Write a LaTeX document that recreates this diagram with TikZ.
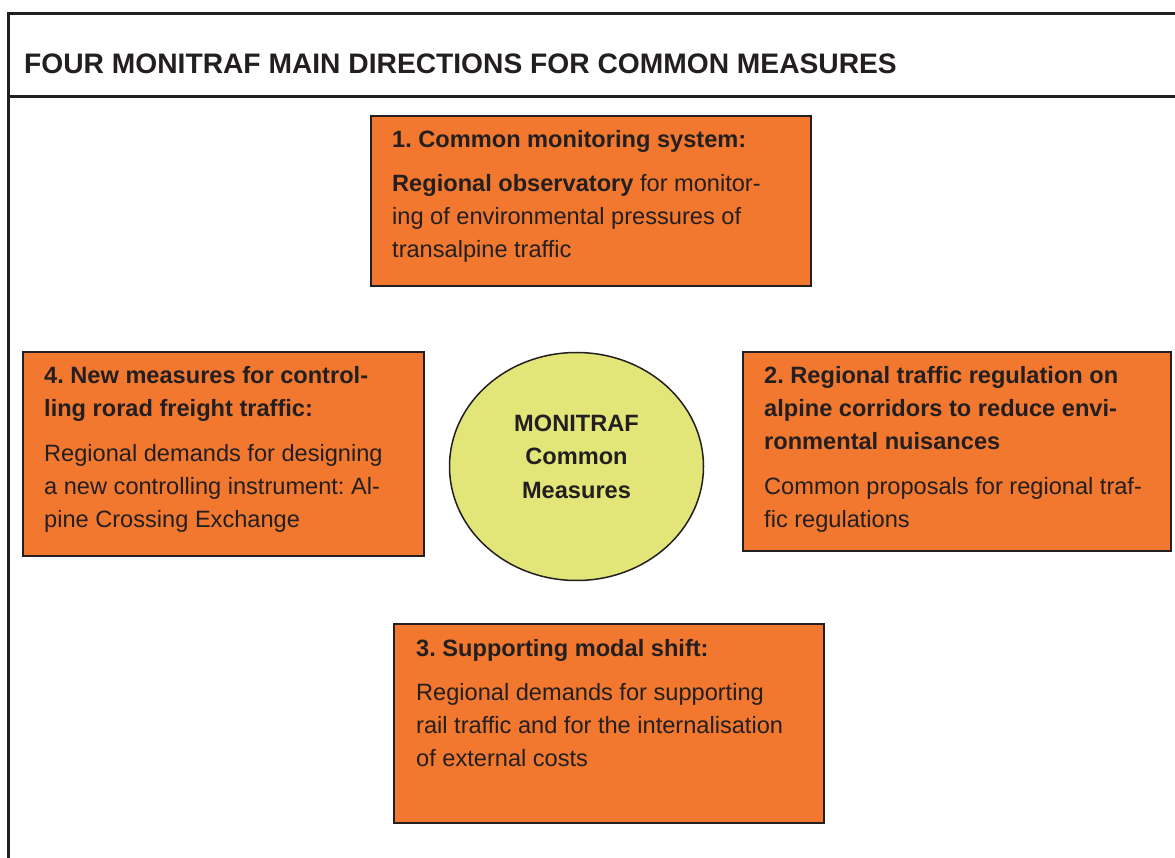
\documentclass[tikz,border=0pt]{standalone}
\usepackage{fontspec}
\setmainfont{Liberation Sans}
\usetikzlibrary{shapes.geometric}
\frenchspacing
\definecolor{boxorange}{RGB}{241,120,46}
\definecolor{ellyellow}{RGB}{226,229,119}
\definecolor{ink}{RGB}{35,31,32}
\tikzset{
  framerule/.style={line width=2.7pt, draw=ink},
  obox/.style={draw=ink, line width=1.5pt, fill=boxorange, rectangle, inner sep=0pt},
  btxt/.style={text=ink, inner sep=0pt, anchor=base west, align=left,
     font=\fontsize{23.6}{33}\selectfont\frenchspacing},
  hub/.style={ellipse, draw=ink, line width=1.5pt, fill=ellyellow, inner sep=0pt,
     minimum width=254pt, minimum height=228pt},
}
\begin{document}
\begin{tikzpicture}[x=1pt,y=-1pt]
\useasboundingbox (0,0) rectangle (1175,858);
% frame
\draw[framerule] (8.7,858) -- (8.7,13.8) -- (1175,13.8);
\draw[framerule] (7.4,96.8) -- (1175,96.8);
\node[text=ink, inner sep=0pt, anchor=base west, font=\fontsize{28.2}{30}\selectfont\bfseries]
  (title) at (24,74) {FOUR MONITRAF MAIN DIRECTIONS FOR COMMON MEASURES};
% boxes
\node[obox, minimum width=440pt, minimum height=170pt] (b1) at (591,201) {};
\node[obox, minimum width=401pt, minimum height=204pt] (b4) at (223.5,454) {};
\node[obox, minimum width=428pt, minimum height=199pt] (b2) at (957,451.5) {};
\node[obox, minimum width=430pt, minimum height=199pt] (b3) at (609,723.5) {};
% hub
\node[hub] (hub) at (576.5,466.5) {};
\node[text=ink, inner sep=0pt, anchor=base, align=center,
      font=\fontsize{23.6}{33.5}\selectfont\bfseries] (hubtxt) at (576.5,498)
  {MONITRAF\\Common\\Measures};
% texts (base anchor = last line baseline)
\node[btxt] (t1) at (392,258)
  {\textbf{1. Common monitoring system:}\\[11pt]
   \textbf{Regional observatory} for monitor-\\
   ing of environmental pressures of\\
   transalpine traffic};
\node[btxt] (t4) at (44,527)
  {\textbf{4. New measures for control-}\\
   \textbf{ling rorad freight traffic:}\\[12pt]
   Regional demands for designing\\
   a new controlling instrument: Al-\\
   pine Crossing Exchange};
\node[btxt] (t2) at (764,527)
  {\textbf{2. Regional traffic regulation on}\\
   \textbf{alpine corridors to reduce envi-}\\
   \textbf{ronmental nuisances}\\[12pt]
   Common proposals for regional traf-\\
   fic regulations};
\node[btxt] (t3) at (416,766)
  {\textbf{3. Supporting modal shift:}\\[11pt]
   Regional demands for supporting\\
   rail traffic and for the internalisation\\
   of external costs};
\end{tikzpicture}
\end{document}
